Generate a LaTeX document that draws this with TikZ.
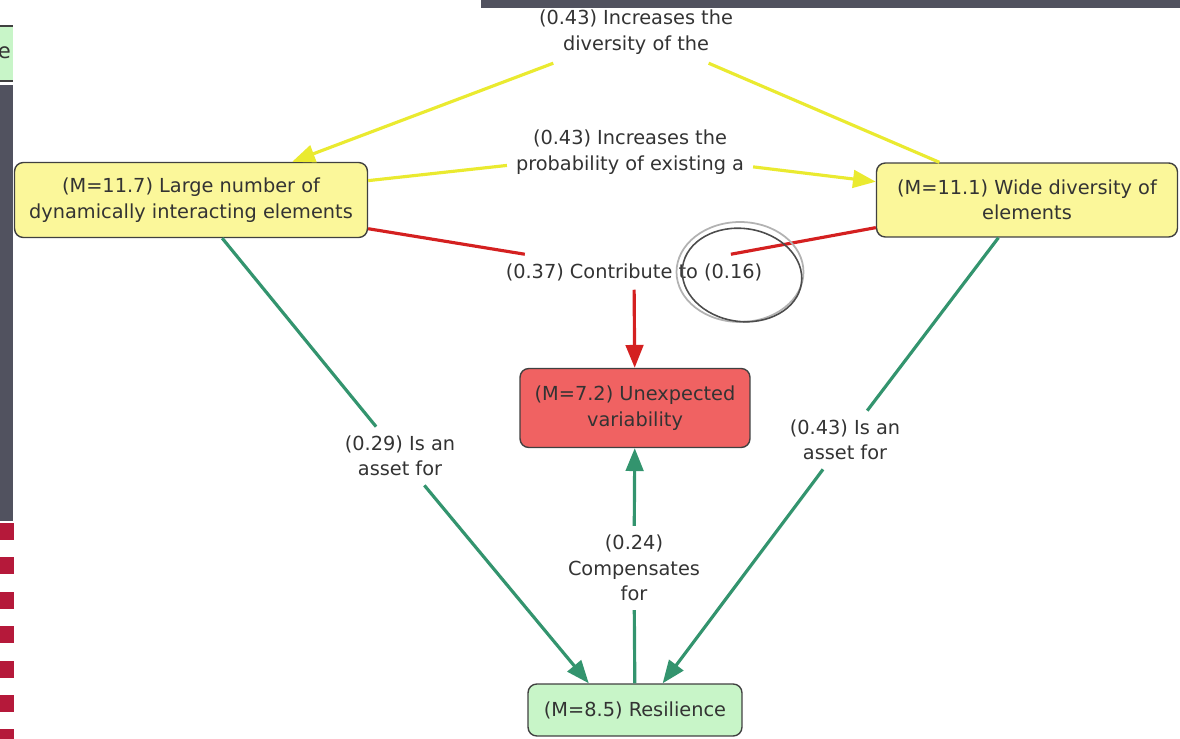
\documentclass[tikz,border=0pt]{standalone}
\usepackage{fontspec}
\setmainfont{DejaVu Sans}
\usetikzlibrary{arrows.meta}
\definecolor{cyellow}{HTML}{FBF79A}
\definecolor{cred}{HTML}{F06262}
\definecolor{cgreen}{HTML}{C8F5C8}
\definecolor{lyellow}{HTML}{EAEA30}
\definecolor{lred}{HTML}{D42020}
\definecolor{lgreen}{HTML}{33946E}
\definecolor{slate}{HTML}{51525F}
\definecolor{stripe}{HTML}{B5193A}
\begin{document}
\begin{tikzpicture}[
    x=0.02cm, y=-0.02cm,
    concept/.style={draw=black!75, line width=0.8pt, rounded corners=5pt, align=center, text=black!80, font=\fontsize{11}{14.5}\selectfont},
    phrase/.style={align=center, text=black!80, inner sep=5pt, font=\fontsize{11}{14.5}\selectfont},
    ylink/.style={line width=1.8pt, lyellow},
    rlink/.style={line width=1.8pt, lred},
    glink/.style={line width=1.8pt, lgreen},
    >={Triangle[length=13pt, width=10pt]},
]
    \useasboundingbox (0,0) rectangle (1180,739);

    \fill[slate] (481,0) rectangle (1180,8);
    \fill[slate] (0,85) rectangle (13,521);
    \foreach \i in {0,...,6}
        \fill[stripe] (0,{523+34.4*\i}) rectangle (14,{540+34.4*\i});
    \fill[cgreen] (0,26) rectangle (13,81);
    \draw[black!75, line width=0.8pt] (0,26) -- (13,26) (0,81) -- (13,81);
    \node[text=black!80, anchor=east, inner sep=1pt, font=\fontsize{12}{14.5}\selectfont] (cut) at (13,53) {e};

    \node[concept, fill=cyellow, minimum width=7.06cm, minimum height=1.5cm] (large) at (191,200) {(M=11.7) Large number of\\dynamically interacting elements};
    \node[concept, fill=cyellow, minimum width=6.02cm, minimum height=1.48cm] (wide) at (1027,200) {(M=11.1) Wide diversity of\\elements};
    \node[concept, fill=cred, minimum width=4.6cm, minimum height=1.58cm] (unexp) at (635,408) {(M=7.2) Unexpected\\variability};
    \node[concept, fill=cgreen, minimum width=4.28cm, minimum height=1.04cm] (resil) at (635,710) {(M=8.5) Resilience};

    \node[phrase] (divers) at (636,32) {(0.43) Increases the\\diversity of the};
    \node[phrase] (prob) at (630,152) {(0.43) Increases the\\probability of existing a};
    \node[phrase] (contrib) at (634,272) {(0.37) Contribute to (0.16)};
    \node[phrase] (assetl) at (400,456) {(0.29) Is an\\asset for};
    \node[phrase] (assetr) at (845,440) {(0.43) Is an\\asset for};
    \node[phrase] (comp) at (634,568) {(0.24)\\Compensates\\for};

    \draw[ylink] (wide) -- (divers);
    \draw[ylink, ->] (divers) -- (large);
    \draw[ylink] (large) -- (prob);
    \draw[ylink, ->] (prob) -- (wide);

    \draw[rlink] (large) -- (contrib);
    \draw[rlink] (wide) -- (contrib);
    \draw[rlink, ->] (contrib) -- (unexp);

    \draw[glink] (large) -- (assetl);
    \draw[glink, ->] (assetl) -- (resil.150);
    \draw[glink] (wide) -- (assetr);
    \draw[glink, ->] (assetr) -- (resil.44);
    \draw[glink] (resil) -- (comp);
    \draw[glink, ->] (comp) -- (unexp);

    \draw[gray!60, line width=1pt] (740,272) ellipse [x radius=1.27cm, y radius=1.0cm];
    \draw[black!70, line width=0.9pt, rotate around={-8:(742,275)}] (742,275) ellipse [x radius=1.2cm, y radius=0.93cm];
\end{tikzpicture}
\end{document}
